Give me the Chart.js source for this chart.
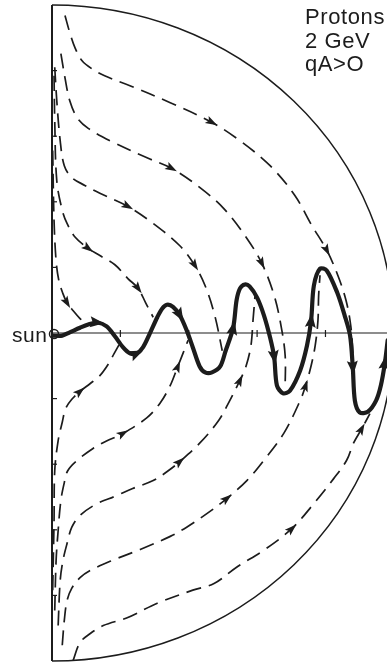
<!DOCTYPE html>
<html>
<head>
<meta charset="utf-8">
<script src="https://cdn.jsdelivr.net/npm/chart.js@4.4.1/dist/chart.umd.min.js"></script>
<style>
  html, body { margin: 0; padding: 0; background: #fff; }
  #wrap { width: 387px; height: 663px; }
</style>
</head>
<body>
<div id="wrap"><canvas id="myChart" width="387" height="663"></canvas></div>
<script>
// Data (radius of the boundary = 50 units, sun at the origin)
const BOUNDARY_RADIUS = 50;
const xTicks = [10, 20, 30, 40];
const yTicks = [-40, -30, -20, -10, 10, 20, 30, 40];
const titleLines = ['Protons', '2 GeV', 'qA>O'];
const sunLabel = 'sun';

// thick wavy current sheet, left to right
const currentSheet = [
    [0.1,-0.4],[1.5,-0.4],[2.6,0.1],[4.1,0.8],[5.3,1.3],[6.6,1.6],[8.0,1.0],[9.2,-0.5],[10.4,-2.2],[11.4,-3.1],
    [12.4,-3.1],[13.3,-2.2],[14.3,-0.1],[15.4,2.4],[16.1,3.7],[16.8,4.3],[17.7,4.0],[18.7,2.7],[19.7,0.4],[20.6,-2.2],
    [21.6,-5.1],[22.4,-6.0],[23.4,-6.0],[24.6,-5.1],[25.4,-2.7],[26.5,0.8],[27.0,5.0],[27.5,6.8],[28.2,7.4],[28.9,7.1],
    [30.0,5.4],[31.0,2.7],[31.9,-0.7],[32.5,-3.7],[32.9,-8.0],[33.8,-9.2],[34.8,-8.8],[36.3,-5.7],[37.3,-1.9],[37.9,1.9],
    [38.3,7.2],[39.2,9.8],[40.2,9.5],[41.7,6.2],[42.8,2.7],[43.6,-0.4],[44.0,-5.3],[44.3,-10.3],[45.0,-12.1],[46.2,-12.0],
    [47.4,-10.3],[48.1,-8.0],[48.7,-4.5],[49.1,-1.1]
];
const sheetArrows = [5, 10, 17, 25, 33, 39, 46, 52];

// dashed drift paths, northern half (top -> sheet)
const north1 = [[1.9,48.4],[2.6,45.8],[3.4,43.4],[4.4,41.5],[5.8,40.3],[7.7,39.2],[11.4,37.7],[17.3,35.1],[23.4,32.1],[27.5,29.3],
    [31.9,25.5],[35.5,21.0],[38.0,16.4],[40.2,12.6],[41.8,8.8],[43.0,5.0],[43.7,1.1],[44.0,-3.0],[44.1,-7.0]];
const north2 = [[1.3,42.6],[1.9,38.9],[2.6,35.4],[3.7,32.8],[5.3,31.2],[8.5,29.3],[13.9,26.7],[17.5,25.1],[21.6,22.2],[25.1,19.0],
    [28.2,14.9],[30.7,10.6],[32.5,5.7],[33.5,1.1],[34.1,-3.4],[34.1,-8.5]];
const north3 = [[0.4,40.5],[0.7,35.4],[1.2,29.3],[1.8,25.5],[2.9,23.7],[4.8,22.5],[7.0,21.3],[11.1,19.3],[14.8,16.7],[18.7,13.3],
    [20.9,10.3],[22.4,7.2],[23.8,2.7],[24.9,-2.7]];
const north4 = [[0.3,39.2],[0.4,32.4],[0.7,23.2],[1.5,18.7],[2.2,16.7],[3.4,14.6],[5.3,12.9],[7.0,11.8],[9.2,10.4],[11.1,8.3],
    [12.6,6.8],[13.7,4.6],[14.8,2.4]];
const north5 = [[0.1,27.8],[0.3,17.1],[0.6,11.0],[1.0,8.0],[1.6,6.0],[2.2,4.6],[3.1,3.4],[4.1,2.2],[5.0,1.3]];

// dashed drift paths, southern half (bottom -> sheet)
const south1 = [[3.1,-49.9],[4.1,-47.2],[5.6,-45.8],[7.5,-44.6],[11.0,-43.4],[15.4,-41.2],[20.6,-39.2],[23.7,-38.2],[27.0,-35.7],
    [31.0,-33.1],[35.1,-29.8],[38.3,-26.0],[41.2,-22.2],[43.1,-19.4],[44.1,-16.8],[45.3,-14.6],[46.5,-12.3]];
const south2 = [[1.5,-47.6],[1.8,-43.8],[2.2,-40.8],[2.9,-38.9],[4.1,-37.3],[5.6,-36.2],[8.5,-34.8],[12.9,-33.0],[17.3,-31.0],
    [19.7,-29.6],[22.7,-27.5],[25.6,-25.2],[28.5,-22.5],[31.0,-19.4],[33.9,-15.3],[36.3,-10.3],[37.1,-8.0],[37.9,-5.0],
    [38.5,-1.9],[38.9,1.9],[39.0,5.7],[39.2,8.8]];
const south3 = [[0.9,-44.6],[1.2,-37.7],[1.6,-34.7],[2.2,-32.1],[2.9,-29.6],[4.1,-27.8],[6.6,-26.0],[9.2,-24.9],[11.8,-23.7],
    [14.8,-22.5],[17.0,-21.0],[18.7,-19.6],[21.6,-16.8],[24.4,-13.3],[26.0,-10.3],[27.5,-7.2],[28.4,-5.0],[29.1,-1.9],
    [29.4,1.9],[29.7,5.7]];
const south4 = [[0.4,-42.3],[0.6,-34.7],[0.9,-30.1],[1.3,-25.5],[1.8,-22.8],[2.3,-21.0],[3.7,-19.4],[6.0,-17.6],[7.9,-16.5],
    [10.4,-15.3],[13.9,-12.9],[15.8,-10.7],[17.3,-8.0],[18.4,-5.1],[19.2,-3.0],[19.9,-1.1]];
const south5 = [[0.1,-39.2],[0.3,-28.6],[0.4,-21.0],[0.9,-16.4],[1.5,-13.6],[2.0,-11.5],[2.9,-10.1],[4.1,-8.9],[5.6,-7.7],
    [7.0,-6.5],[8.2,-4.8],[9.1,-3.1],[9.8,-1.8]];

// point indices where an arrowhead sits on each dashed path
const fieldLines = [north1, north2, north3, north4, north5, south1, south2, south3, south4, south5];
const fieldArrows = [[8, 13], [7, 11], [7, 10], [6, 10], [5], [10, 15], [11, 16], [11, 15], [9, 13], [7]];

const INK = '#1c1c1c';
const FONT = '"Liberation Sans", Arial, sans-serif';

const toXY = pts => pts.map(p => ({ x: p[0], y: p[1] }));

// draws the boundary, the axes with their ticks, the sun and the labels
const framePlugin = {
    id: 'frame',
    beforeDatasetsDraw(chart) {
        const { ctx } = chart;
        const x = chart.scales.x, y = chart.scales.y;
        const cx = x.getPixelForValue(0), cy = y.getPixelForValue(0);
        const rx = x.getPixelForValue(BOUNDARY_RADIUS) - cx;
        const ry = cy - y.getPixelForValue(BOUNDARY_RADIUS);
        ctx.save();
        ctx.strokeStyle = INK;
        ctx.lineWidth = 1.5;
        ctx.beginPath();
        ctx.ellipse(cx, cy, rx, ry, 0, -Math.PI / 2, Math.PI / 2);
        ctx.stroke();

        ctx.lineWidth = 2;
        ctx.beginPath();
        ctx.moveTo(cx, cy - ry);
        ctx.lineTo(cx, cy + ry);
        ctx.stroke();

        ctx.lineWidth = 1.2;
        ctx.beginPath();
        ctx.moveTo(cx, cy);
        ctx.lineTo(cx + rx, cy);
        ctx.stroke();

        xTicks.forEach(v => {
            const px = x.getPixelForValue(v);
            ctx.beginPath();
            ctx.moveTo(px, cy - 3);
            ctx.lineTo(px, cy + 4);
            ctx.stroke();
        });
        yTicks.forEach(v => {
            const py = y.getPixelForValue(v);
            ctx.beginPath();
            ctx.moveTo(cx, py);
            ctx.lineTo(cx + 5, py);
            ctx.stroke();
        });

        // the sun
        ctx.lineWidth = 1.5;
        ctx.beginPath();
        ctx.arc(cx + 2, cy + 1, 4.5, 0, Math.PI * 2);
        ctx.stroke();
        ctx.restore();
    },
    afterDraw(chart) {
        const { ctx } = chart;
        const x = chart.scales.x, y = chart.scales.y;
        const cx = x.getPixelForValue(0), cy = y.getPixelForValue(0);
        ctx.save();
        ctx.fillStyle = INK;
        ctx.textBaseline = 'alphabetic';
        ctx.textAlign = 'left';
        ctx.font = '21px ' + FONT;
        if ('letterSpacing' in ctx) ctx.letterSpacing = '0.5px';
        ctx.fillText(sunLabel, cx - 40, cy + 9);

        ctx.font = '22px ' + FONT;
        if ('letterSpacing' in ctx) ctx.letterSpacing = '0.6px';
        const baselines = [24, 48, 71];
        titleLines.forEach((t, i) => ctx.fillText(t, 305, baselines[i]));
        ctx.restore();
    }
};

// arrowheads placed on the paths, pointing along each path
const arrowPlugin = {
    id: 'arrows',
    afterDatasetsDraw(chart) {
        const { ctx } = chart;
        const marks = [[0, sheetArrows]].concat(fieldArrows.map((a, k) => [k + 1, a]));
        ctx.save();
        ctx.fillStyle = INK;
        marks.forEach(([ds, idxs]) => {
            const pts = chart.getDatasetMeta(ds).data;
            idxs.forEach(i => {
                const a = pts[i - 1], b = pts[i + 1], p = pts[i];
                const ang = Math.atan2(b.y - a.y, b.x - a.x);
                const big = ds === 0;
                const len = big ? 14 : 12;
                const half = big ? 5.5 : 4;
                ctx.save();
                ctx.translate(p.x, p.y);
                ctx.rotate(ang);
                ctx.beginPath();
                ctx.moveTo(len / 2, 0);
                ctx.lineTo(-len / 2, half);
                ctx.lineTo(-len / 2 + 2.5, 0);
                ctx.lineTo(-len / 2, -half);
                ctx.closePath();
                ctx.fill();
                ctx.restore();
            });
        });
        ctx.restore();
    }
};

const datasets = [{
    data: toXY(currentSheet),
    showLine: true,
    borderColor: INK,
    borderWidth: 4.2,
    tension: 0.3,
    pointRadius: 0,
    borderCapStyle: 'round',
    borderJoinStyle: 'round',
    fill: false
}].concat(fieldLines.map(line => ({
    data: toXY(line),
    showLine: true,
    borderColor: INK,
    borderWidth: 1.7,
    borderDash: [15, 8],
    tension: 0.35,
    pointRadius: 0,
    fill: false
})));

const myChart = new Chart(document.getElementById('myChart'), {
    type: 'scatter',
    data: { datasets: datasets },
    options: {
        responsive: false,
        animation: false,
        events: [],
        layout: { padding: { left: 52, top: 5, right: 0, bottom: 2 } },
        plugins: { legend: { display: false }, tooltip: { enabled: false } },
        scales: {
            x: { type: 'linear', min: 0, max: 49, display: false },
            y: { type: 'linear', min: -50, max: 50, display: false }
        }
    },
    plugins: [framePlugin, arrowPlugin]
});
</script>
</body>
</html>
